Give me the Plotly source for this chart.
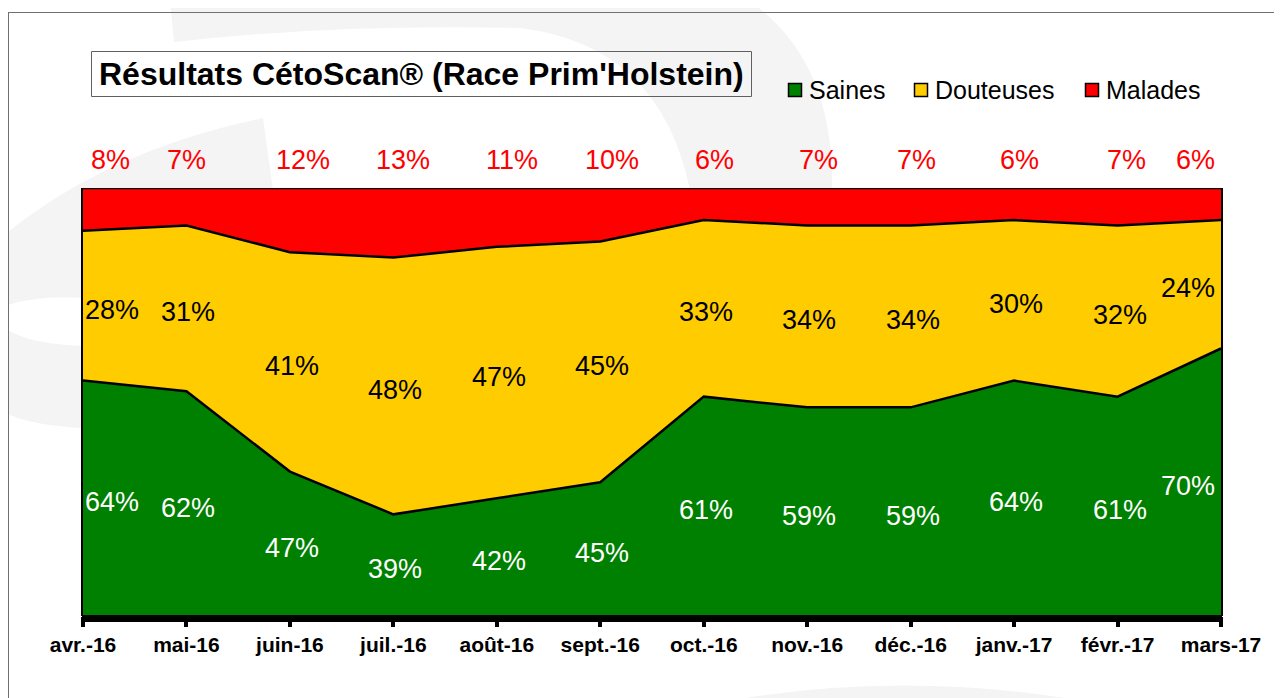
import plotly.graph_objects as go

# ---------------- data ----------------
months = ["avr.-16", "mai-16", "juin-16", "juil.-16", "août-16", "sept.-16",
          "oct.-16", "nov.-16", "déc.-16", "janv.-17", "févr.-17", "mars-17"]
saines = [64, 62, 47, 39, 42, 45, 61, 59, 59, 64, 61, 70]
douteuses = [28, 31, 41, 48, 47, 45, 33, 34, 34, 30, 32, 24]
malades = [8, 7, 12, 13, 11, 10, 6, 7, 7, 6, 7, 6]
series_names = ["Saines", "Douteuses", "Malades"]
title_text = "Résultats CétoScan® (Race Prim'Holstein)"

# ---------------- style ----------------
fill_colors = ["#008000", "#FFCC00", "#FF0000"]
label_colors = ["#FFFFFF", "#000000", "#FF0000"]
FONT = "Liberation Sans, Arial, Helvetica, sans-serif"
PAGE_OFF = 8                      # html body margin
W, H = 1282 - PAGE_OFF, 698 - PAGE_OFF
# plot area in page pixels
L, R, T, B = 83, 1221, 188, 616
Y_MIN, Y_MAX = 20, 100
legend_x = [788, 914, 1085]       # page x of legend swatches
legend_y = 90
top_label_xshift = [6, 0, 13, 10, 15, 12, 11, 11, 6, 5, 9, -4]


def px(x):
    return (x - L) / (R - L)


def py(y):
    return (B - y) / (B - T)


series = [saines, douteuses, malades]

fig = go.Figure()
for name, vals, col in zip(series_names, series, fill_colors):
    fig.add_trace(go.Scatter(
        x=months, y=vals, name=name, showlegend=False,
        stackgroup="one", mode="lines",
        line=dict(color="black", width=2.5),
        fillcolor=col, hoverinfo="x+y+name"))

annotations = []
n = len(months)
base = [0] * n
for k, (vals, lc) in enumerate(zip(series, label_colors)):
    for i, m in enumerate(months):
        lo = max(base[i], Y_MIN)
        hi = base[i] + vals[i]
        if i == 0:
            xa = "left"
        elif i == n - 1:
            xa = "right"
        else:
            xa = "center"
        if k == 2:
            annotations.append(dict(
                x=m, y=py(160), xref="x", yref="paper", text=f"{vals[i]}%",
                showarrow=False, xanchor=xa, yanchor="middle",
                xshift=top_label_xshift[i],
                font=dict(family=FONT, size=27, color=lc)))
        else:
            xs = 0 if i == 0 else (-4 if i == n - 1 else 2)
            annotations.append(dict(
                x=m, y=(lo + hi) / 2, xref="x", yref="y", text=f"{vals[i]}%",
                showarrow=False, xanchor=xa, yanchor="middle", xshift=xs,
                yshift=-4, font=dict(family=FONT, size=27, color=lc)))
        base[i] = hi

# title
annotations.append(dict(
    x=px(421), y=py(74), xref="paper", yref="paper", text=f"<b>{title_text}</b>",
    showarrow=False, xanchor="center", yanchor="middle",
    font=dict(family=FONT, size=32, color="black")))

shapes = [
    # faint watermark
    dict(type="path", xref="paper", yref="paper", layer="below",
         path=(f"M {px(170)},{py(0)} L {px(748)},{py(0)} "
               f"Q {px(835)},{py(60)} {px(832)},{py(190)} "
               f"L {px(690)},{py(190)} Q {px(660)},{py(45)} {px(520)},{py(28)} "
               f"Q {px(330)},{py(24)} {px(174)},{py(42)} Z"),
         fillcolor="#F4F4F4", line=dict(width=0)),
    dict(type="path", xref="paper", yref="paper", layer="below",
         path=(f"M {px(263)},{py(118)} Q {px(110)},{py(150)} {px(8)},{py(232)} "
               f"L {px(8)},{py(305)} Q {px(40)},{py(295)} {px(83)},{py(298)} "
               f"L {px(83)},{py(190)} L {px(273)},{py(190)} Z"),
         fillcolor="#F4F4F4", line=dict(width=0)),
    dict(type="path", xref="paper", yref="paper", layer="below",
         path=(f"M {px(8)},{py(330)} Q {px(30)},{py(344)} {px(83)},{py(346)} "
               f"L {px(83)},{py(428)} Q {px(30)},{py(425)} {px(8)},{py(414)} Z"),
         fillcolor="#F4F4F4", line=dict(width=0)),
    dict(type="path", xref="paper", yref="paper", layer="below",
         path=(f"M {px(740)},{py(699)} Q {px(900)},{py(672)} {px(1072)},{py(699)} Z"),
         fillcolor="#F4F4F4", line=dict(width=0)),
    # outer frame (left and top edges)
    dict(type="line", xref="paper", yref="paper", x0=px(8.5), x1=px(8.5),
         y0=py(12), y1=py(700), line=dict(color="#707070", width=1)),
    dict(type="line", xref="paper", yref="paper", x0=px(8), x1=px(1290),
         y0=py(12.5), y1=py(12.5), line=dict(color="#707070", width=1)),
    # title box
    dict(type="rect", xref="paper", yref="paper", x0=px(91.5), x1=px(751.5),
         y0=py(51.5), y1=py(96.5), line=dict(color="#606060", width=1),
         fillcolor="rgba(255,255,255,0)"),
    # thick category axis bar
    dict(type="rect", xref="paper", yref="paper", layer="above",
         x0=px(L - 1), x1=px(R + 1),
         y0=py(615), y1=py(622), line=dict(width=0), fillcolor="black"),
]

# legend: swatches + names
for name, col, lx in zip(series_names, fill_colors, legend_x):
    shapes.append(dict(type="rect", xref="paper", yref="paper",
                       x0=px(lx + 0.5), x1=px(lx + 13.5),
                       y0=py(legend_y - 6.5), y1=py(legend_y + 6.5),
                       fillcolor=col, line=dict(color="black", width=1.5)))
    annotations.append(dict(x=px(lx + 19), y=py(legend_y), xref="paper",
                            yref="paper", text=name, showarrow=False,
                            xanchor="left", yanchor="middle",
                            font=dict(family=FONT, size=25, color="black")))

fig.update_layout(
    width=W, height=H,
    margin=dict(l=L - PAGE_OFF, r=W - (R - PAGE_OFF), t=T - PAGE_OFF,
                b=H - (B - PAGE_OFF), pad=0),
    paper_bgcolor="white", plot_bgcolor="white",
    font=dict(family=FONT, color="black"),
    showlegend=False,
    xaxis=dict(type="category", range=[0, n - 1], showgrid=False,
               zeroline=False, showline=False,
               ticks="outside", ticklen=10, tickwidth=4, tickcolor="black",
               tickfont=dict(family=FONT, size=21, color="black"),
               tickprefix="<b>", ticksuffix="</b>"),
    yaxis=dict(range=[Y_MIN, Y_MAX], showgrid=False, zeroline=False,
               showticklabels=False, ticks="", showline=True,
               linecolor="black", linewidth=2, mirror=True),
    annotations=annotations,
    shapes=shapes,
)

fig.write_html("out.html")
